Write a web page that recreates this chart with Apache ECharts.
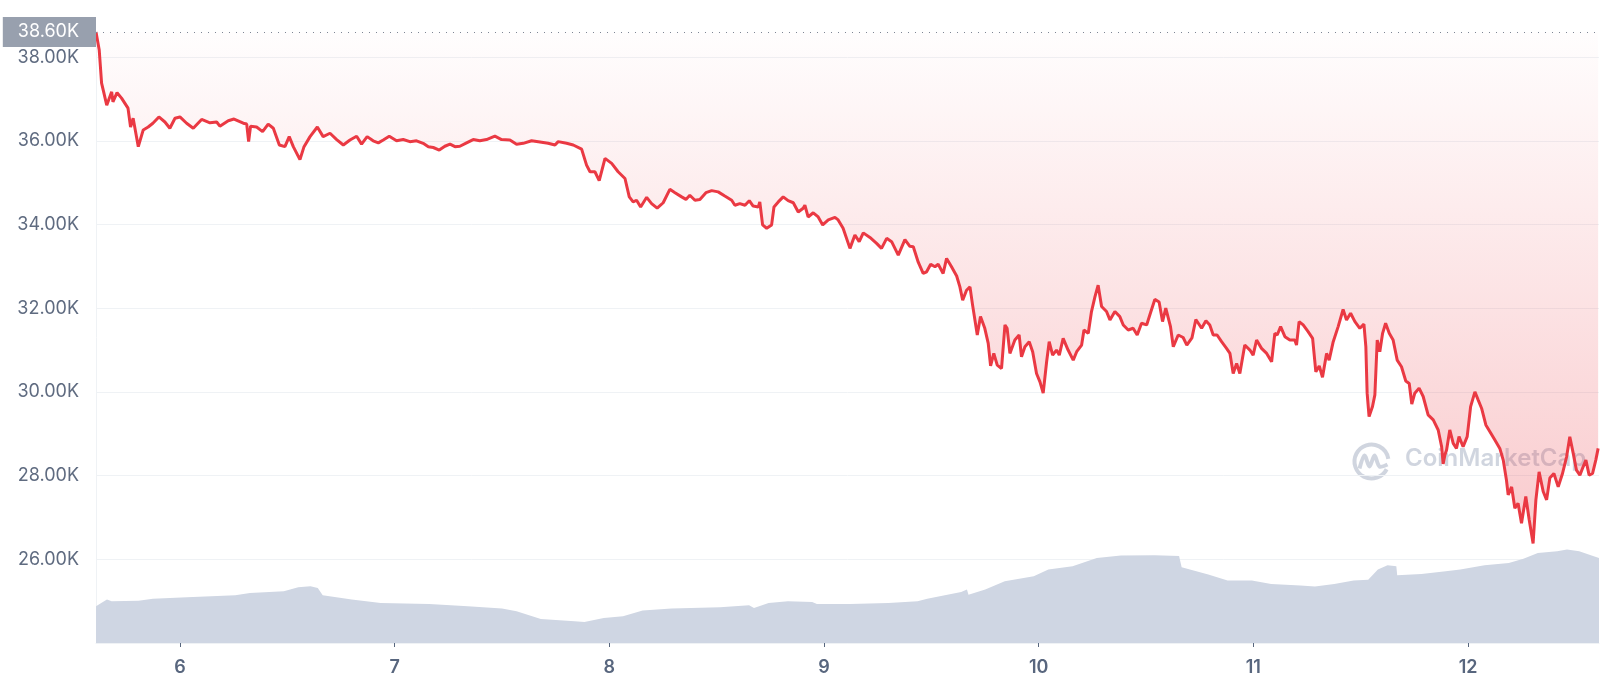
<!DOCTYPE html>
<html>
<head>
<meta charset="utf-8">
<script src="https://cdn.jsdelivr.net/npm/echarts@6/dist/echarts.min.js"></script>
<style>
html,body{margin:0;padding:0;background:#fff;}
#chart{width:1600px;height:688px;}
</style>
</head>
<body>
<div id="chart"></div>
<script>
// Day of month (May 2022, fractional) and BTC price in USD
const priceDays = [5.609,5.624,5.635,5.646,5.659,5.682,5.688,5.707,5.728,5.758,5.770,5.782,5.806,5.829,5.852,5.874,5.902,5.930,5.953,5.977,
6.000,6.031,6.062,6.101,6.140,6.171,6.186,6.225,6.252,6.295,6.311,6.320,6.329,6.357,6.385,6.411,6.435,6.463,6.489,6.509,
6.528,6.559,6.578,6.606,6.640,6.667,6.699,6.730,6.761,6.792,6.823,6.846,6.872,6.900,6.924,6.947,6.975,7.009,7.040,7.071,
7.102,7.133,7.157,7.180,7.208,7.234,7.258,7.281,7.304,7.335,7.366,7.397,7.428,7.467,7.498,7.537,7.568,7.599,7.638,7.677,
7.715,7.747,7.762,7.801,7.832,7.871,7.894,7.910,7.933,7.953,7.980,8.011,8.041,8.073,8.093,8.111,8.127,8.146,8.174,8.197,
8.223,8.251,8.282,8.306,8.337,8.357,8.375,8.399,8.422,8.450,8.477,8.507,8.538,8.570,8.585,8.608,8.632,8.652,8.670,8.694,
8.701,8.714,8.733,8.756,8.767,8.787,8.810,8.833,8.857,8.880,8.903,8.911,8.926,8.950,8.973,8.994,9.020,9.051,9.066,9.089,
9.121,9.144,9.164,9.183,9.214,9.245,9.268,9.292,9.315,9.346,9.377,9.400,9.416,9.439,9.462,9.478,9.497,9.517,9.532,9.555,
9.571,9.594,9.618,9.633,9.646,9.664,9.680,9.692,9.714,9.729,9.749,9.765,9.776,9.791,9.807,9.827,9.843,9.853,9.866,9.889,
9.909,9.920,9.936,9.956,9.972,9.990,10.006,10.021,10.037,10.049,10.065,10.083,10.096,10.114,10.137,10.161,10.177,10.200,10.211,10.231,
10.246,10.262,10.277,10.293,10.316,10.332,10.355,10.378,10.394,10.417,10.440,10.459,10.479,10.503,10.521,10.541,10.561,10.577,10.592,10.614,
10.627,10.650,10.673,10.690,10.714,10.732,10.759,10.779,10.797,10.813,10.831,10.852,10.875,10.891,10.906,10.922,10.937,10.960,10.984,10.999,
11.015,11.038,11.062,11.085,11.100,11.111,11.127,11.147,11.170,11.193,11.201,11.213,11.232,11.255,11.276,11.291,11.307,11.322,11.341,11.353,
11.372,11.395,11.418,11.434,11.453,11.473,11.496,11.515,11.524,11.530,11.539,11.555,11.566,11.577,11.589,11.602,11.616,11.633,11.651,11.670,
11.690,11.710,11.726,11.738,11.752,11.772,11.791,11.814,11.838,11.861,11.877,11.884,11.892,11.900,11.915,11.931,11.946,11.958,11.977,11.996,
12.012,12.032,12.047,12.063,12.083,12.102,12.125,12.148,12.164,12.179,12.187,12.203,12.218,12.233,12.249,12.269,12.285,12.303,12.316,12.331,
12.350,12.366,12.381,12.400,12.420,12.440,12.459,12.474,12.490,12.505,12.521,12.536,12.549,12.564,12.580,12.595,12.606];
const prices = [38600,38170,37380,37140,36850,37170,36930,37150,37020,36780,36330,36540,35860,36260,36330,36420,36570,36450,36300,36540,
36570,36420,36300,36510,36430,36450,36350,36480,36520,36420,36400,35980,36350,36330,36220,36400,36300,35900,35860,36100,
35860,35550,35860,36100,36330,36100,36180,36030,35900,36020,36110,35920,36100,36000,35950,36020,36110,36000,36030,35980,
36000,35940,35860,35840,35780,35870,35920,35860,35870,35950,36030,36000,36030,36110,36030,36020,35920,35940,36000,35970,
35940,35900,35980,35940,35900,35800,35420,35260,35260,35050,35580,35460,35260,35100,34660,34540,34580,34420,34650,34500,
34390,34520,34840,34760,34660,34600,34700,34580,34600,34760,34810,34780,34680,34580,34460,34500,34460,34570,34440,34420,
34540,33990,33910,33990,34420,34540,34660,34570,34520,34300,34390,34460,34180,34280,34180,33990,34110,34170,34110,33910,
33430,33750,33590,33800,33690,33550,33430,33670,33590,33270,33640,33480,33470,33100,32830,32870,33050,32990,33050,32830,
33190,32990,32770,32510,32190,32430,32510,32080,31360,31800,31520,31160,30620,30920,30640,30560,31600,31520,30920,31240,
31360,30840,31080,31200,30960,30440,30240,29970,30720,31200,30880,31000,30880,31280,31000,30760,30960,31120,31480,31400,
31920,32270,32550,32040,31920,31720,31920,31800,31600,31480,31520,31360,31640,31600,31890,32210,32150,31680,32000,31560,
31080,31360,31300,31120,31290,31730,31520,31700,31600,31360,31360,31200,31040,30920,30440,30680,30440,31120,31000,30880,
31240,31040,30920,30720,31400,31360,31560,31320,31240,31240,31120,31680,31600,31440,31280,30480,30620,30350,30920,30760,
31200,31560,31970,31720,31880,31680,31520,31620,31080,29970,29410,29650,29930,31240,30960,31400,31640,31400,31240,30760,
30600,30260,30200,29710,29970,30090,29890,29450,29330,29090,28690,28280,28490,28610,29090,28770,28650,28930,28690,28930,
29650,30000,29810,29610,29210,29050,28850,28650,28370,27890,27540,27730,27220,27340,26860,27500,26940,26380,27420,28090,
27620,27420,27940,28050,27730,28050,28450,28930,28530,28130,28010,28210,28370,28010,28050,28370,28650];

// 24h volume (USD billions)
const volDays = [5.609,5.660,5.682,5.807,5.874,6.033,6.258,6.326,6.484,6.551,6.608,6.642,6.665,6.800,6.935,7.161,7.341,7.500,7.568,7.681,
7.838,7.884,7.974,8.064,8.155,8.290,8.516,8.651,8.674,8.742,8.832,8.945,8.967,9.121,9.300,9.436,9.481,9.639,9.666,9.673,
9.751,9.842,9.977,10.045,10.158,10.271,10.383,10.541,10.654,10.666,10.790,10.880,10.993,11.083,11.219,11.287,11.377,11.467,11.535,11.580,
11.625,11.666,11.670,11.783,11.896,11.964,12.077,12.190,12.258,12.325,12.415,12.461,12.518,12.572,12.610];
const volumes = [27.6,32.7,31.4,31.9,33.4,34.4,35.9,37.6,38.9,41.9,42.7,41.4,35.9,32.7,30.1,29.4,27.6,25.9,23.9,18.1,
16.3,15.8,18.8,20.1,24.4,25.9,26.9,28.4,26.4,30.1,31.4,30.9,29.4,29.4,30.1,31.4,33.4,38.4,40.2,36.4,
40.2,46.5,50.2,55.3,57.7,64.0,65.8,66.0,65.5,57.0,51.5,47.0,47.0,44.4,43.2,42.5,44.4,47.0,47.7,55.3,
58.5,57.7,51.0,52.0,54.0,55.3,58.5,60.2,63.5,67.8,69.0,70.3,69.0,66.0,64.0];

const yTicks = [26000,28000,30000,32000,34000,36000,38000];
const priceMin = 24000, priceMax = 38600, priceStep = 2000;
const xStartDay = 5.609, xEndDay = 12.61;
const watermark = 'CoinMarketCap';

const DAY = 86400000;
const BASE = Date.UTC(2022, 3, 30); // April 30 => day 1 = May 1
const toTs = d => BASE + d * DAY;
const n1 = Math.min(priceDays.length, prices.length);
const priceData = [];
for (let i = 0; i < n1; i++) priceData.push([toTs(priceDays[i]), prices[i]]);
const n2 = Math.min(volDays.length, volumes.length);
const volData = [];
for (let i = 0; i < n2; i++) volData.push([toTs(volDays[i]), volumes[i]]);

const fmtK = v => (v / 1000).toFixed(2) + 'K';
const gridCol = '#eff2f5';
const splitColors = [];
for (let v = priceMin; v <= priceMax; v += priceStep) splitColors.push(gridCol);
splitColors.push('rgba(0,0,0,0)');

const chart = echarts.init(document.getElementById('chart'), null, {renderer: 'canvas'});
const wmColor = 'rgba(200,206,217,0.85)';
chart.setOption({
  animation: false,
  useUTC: true,
  backgroundColor: '#ffffff',
  grid: {left: 96, right: 1, top: 32, bottom: 45, containLabel: false},
  xAxis: {
    type: 'time',
    min: toTs(xStartDay),
    max: toTs(xEndDay),
    minInterval: DAY,
    maxInterval: DAY,
    splitLine: {show: false},
    axisLine: {show: true, lineStyle: {color: gridCol, width: 1}},
    axisTick: {show: true, length: 4, lineStyle: {color: '#58667e', width: 1}},
    axisLabel: {
      margin: 16,
      color: '#58667e',
      fontFamily: 'Inter',
      fontSize: 18,
      fontWeight: 600,
      showMinLabel: false,
      showMaxLabel: false,
      formatter: function (value) {
        const d = new Date(value);
        if (d.getUTCHours() === 0 && d.getUTCMinutes() === 0) return String(d.getUTCDate());
        return '';
      }
    }
  },
  yAxis: [{
    type: 'value',
    min: priceMin,
    max: priceMax,
    interval: priceStep,
    axisLine: {show: true, lineStyle: {color: gridCol}},
    axisTick: {show: false},
    splitLine: {show: true, lineStyle: {color: splitColors, width: 1}},
    axisLabel: {
      margin: 17,
      color: '#5f6b80',
      fontFamily: 'Inter',
      fontSize: 18,
      formatter: v => (yTicks.indexOf(v) >= 0 ? fmtK(v) : '')
    }
  }, {
    type: 'value',
    min: 0,
    max: 460,
    show: false,
    splitLine: {show: false}
  }],
  graphic: [
    {
      type: 'group', left: 1352, top: 442, z: 0,
      children: [
        {type: 'arc', shape: {cx: 19, cy: 19, r: 17, startAngle: Math.PI * 0.15, endAngle: Math.PI * 1.95, clockwise: true},
         style: {stroke: wmColor, lineWidth: 4, fill: null}},
        {type: 'polyline', shape: {points: [[7, 26], [12, 13], [17, 24], [22, 13], [27, 24], [35, 22]], smooth: 0.3},
         style: {stroke: wmColor, lineWidth: 4, fill: null}}
      ]
    },
    {type: 'text', left: 1405, top: 447, z: 0,
     style: {text: watermark, fill: wmColor, font: '600 24px Inter'}}
  ],
  series: [
    {
      name: 'Volume',
      type: 'line',
      yAxisIndex: 1,
      data: volData,
      showSymbol: false,
      symbol: 'none',
      lineStyle: {width: 0},
      areaStyle: {color: '#cfd6e3', opacity: 1},
      z: 1
    },
    {
      name: 'Price',
      type: 'line',
      yAxisIndex: 0,
      data: priceData,
      showSymbol: false,
      symbol: 'none',
      lineStyle: {color: '#ea3943', width: 3},
      areaStyle: {
        origin: 'end',
        color: new echarts.graphic.LinearGradient(0, 0, 0, 1, [
          {offset: 0, color: 'rgba(234,57,67,0.01)'},
          {offset: 1, color: 'rgba(234,57,67,0.38)'}
        ])
      },
      markLine: {
        silent: true,
        symbol: 'none',
        animation: false,
        data: [{yAxis: prices[0]}],
        lineStyle: {color: '#7d8594', type: [1, 6], width: 1},
        label: {
          show: true,
          position: 'start',
          distance: 0,
          formatter: p => fmtK(p.value),
          backgroundColor: '#98a0ae',
          color: '#ffffff',
          fontFamily: 'Inter',
          fontSize: 18,
          padding: [6, 17, 6, 15]
        }
      },
      z: 3
    }
  ]
});
</script>
</body>
</html>
